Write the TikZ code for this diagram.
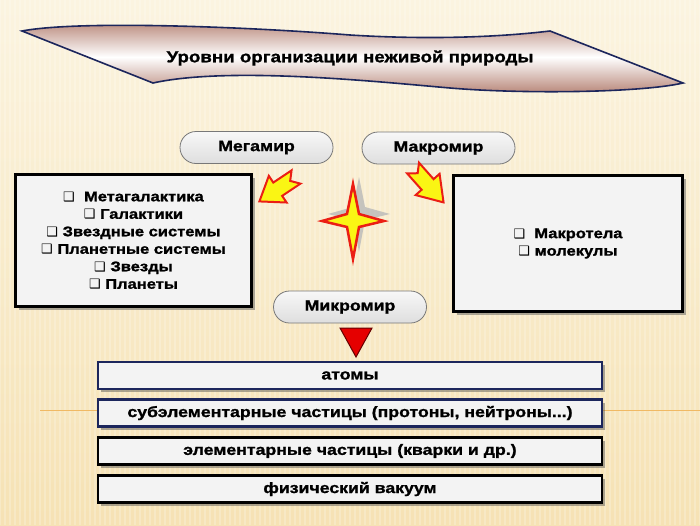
\documentclass[tikz,border=0pt]{standalone}
\usepackage{fontspec}
\setmainfont{Liberation Sans}
\newfontfamily\dvfont{DejaVu Sans}
\newfontfamily\heavy{Liberation Sans Bold}[FakeBold=1.3, FakeStretch=1.18]
\newfontfamily\titlefont{Liberation Sans Bold}[FakeBold=1.1, FakeStretch=1.17]
\usetikzlibrary{shadows,shapes.misc}
\definecolor{bgtop}{RGB}{251,244,224}
\definecolor{bgbot}{RGB}{246,226,180}
\definecolor{navy}{RGB}{28,38,92}
\definecolor{bannerdark}{RGB}{182,132,118}
\definecolor{ovalfill}{RGB}{222,222,222}
\definecolor{ovalline}{RGB}{120,120,120}
\definecolor{boxfill}{RGB}{243,243,243}
\definecolor{yel}{RGB}{250,245,20}
\definecolor{redline}{RGB}{235,30,20}
\definecolor{orangeline}{RGB}{240,185,100}
\newcommand{\bul}{{\dvfont\fontsize{13}{13}\selectfont ❑}}
\begin{document}
\begin{tikzpicture}[x=1pt,y=-1pt,
  oval/.style={rounded rectangle, draw=ovalline, line width=0.8pt,
    top color=gray!6, bottom color=ovalfill, minimum width=153pt, minimum height=32pt,
    inner sep=0pt, font=\fontsize{15}{15}\heavy},
  bigbox/.style={draw=black, line width=2.5pt, fill=boxfill, align=center, inner sep=0pt,
    drop shadow={shadow xshift=3pt,shadow yshift=-3pt,opacity=0.45,fill=black!70},
    font=\fontsize{14}{17.5}\heavy},
  bar/.style={line width=2.5pt, fill=boxfill, minimum width=504pt, minimum height=27pt,
    inner sep=0pt, drop shadow={shadow xshift=3pt,shadow yshift=-3pt,opacity=0.45,fill=black!70},
    font=\fontsize{15}{15}\heavy},
  arrowst/.style={draw=redline, line width=2pt, fill=yel, line join=miter},
  starst/.style={draw=redline, line width=2.5pt, fill=yel, line join=miter}
]
\fill[top color=bgtop, bottom color=bgbot] (0,0) rectangle (700,525);
\useasboundingbox (0,0) rectangle (700,525);
\foreach \x in {0,5,...,700} \draw[white, opacity=0.22, line width=1.2pt] (\x,0) -- (\x,525);

% orange line
\coordinate (ol) at (40,410);
\coordinate (or) at (700,410);
\draw[orangeline, line width=1pt] (ol) -- (or);

% banner
\draw[navy, line width=1.6pt, top color=bannerdark, bottom color=bannerdark, middle color=white]
  (22,31) .. controls (80,20) and (250,27) .. (350,35)
  .. controls (430,40) and (500,37) .. (550,31) -- (683,83)
  .. controls (640,93) and (520,94) .. (450,88)
  .. controls (380,82) and (230,66) .. (153,83) -- cycle;
\node[font=\fontsize{16}{16}\titlefont] (title) at (350,58) {Уровни организации неживой природы};

% ovals
\node[oval] (mega) at (256.5,147.5) {Мегамир};
\node[oval] (makro) at (438.5,148) {Макромир};
\node[oval] (mikro) at (350,307) {Микромир};

% boxes
\node[bigbox, minimum width=236pt, minimum height=132pt] (leftbox) at (133.5,240.5)
  {\bul\ \ Метагалактика\\ \bul\ Галактики\\ \bul\ Звездные системы\\ \bul\ Планетные системы\\ \bul\ Звезды\\ \bul\ Планеты};
\node[bigbox, minimum width=229pt, minimum height=136pt] (rightbox) at (568,243.5)
  {\bul\ \ Макротела\\ \bul\ молекулы};

% yellow arrows
\begin{scope}[shift={(296,177)}, rotate=213.7]
  \draw[arrowst] (0,8) -- (22,8) -- (22,16) -- (44,0) -- (22,-16) -- (22,-8) -- (0,-8) -- (7,0) -- cycle;
\end{scope}
\begin{scope}[shift={(413,168)}, rotate=-48.4]
  \draw[arrowst] (0,8) -- (22,8) -- (22,16) -- (46,0) -- (22,-16) -- (22,-8) -- (0,-8) -- (7,0) -- cycle;
\end{scope}

% star with shadow
\begin{scope}[shift={(6,-7)}]
  \fill[gray!55, opacity=0.8] (353,184) -- (359,214) -- (384,221) -- (359,227) -- (353,259) -- (347,227) -- (322,221) -- (347,214) -- cycle;
\end{scope}
\draw[starst] (353,184) -- (359,214) -- (384,221) -- (359,227) -- (353,259) -- (347,227) -- (322,221) -- (347,214) -- cycle;

% red triangle
\draw[fill=red!90!black, draw=red!40!black, line width=1pt] (340,328) -- (372,328) -- (356,357) -- cycle;

% bars
\node[bar, draw=navy] (atoms) at (350,375.5) {атомы};
\node[bar, draw=navy] (sub) at (350,413) {субэлементарные частицы (протоны, нейтроны...)};
\node[bar, draw=black] (elem) at (350,451) {элементарные частицы (кварки и др.)};
\node[bar, draw=black] (vac) at (350,489) {физический вакуум};
\end{tikzpicture}
\end{document}
